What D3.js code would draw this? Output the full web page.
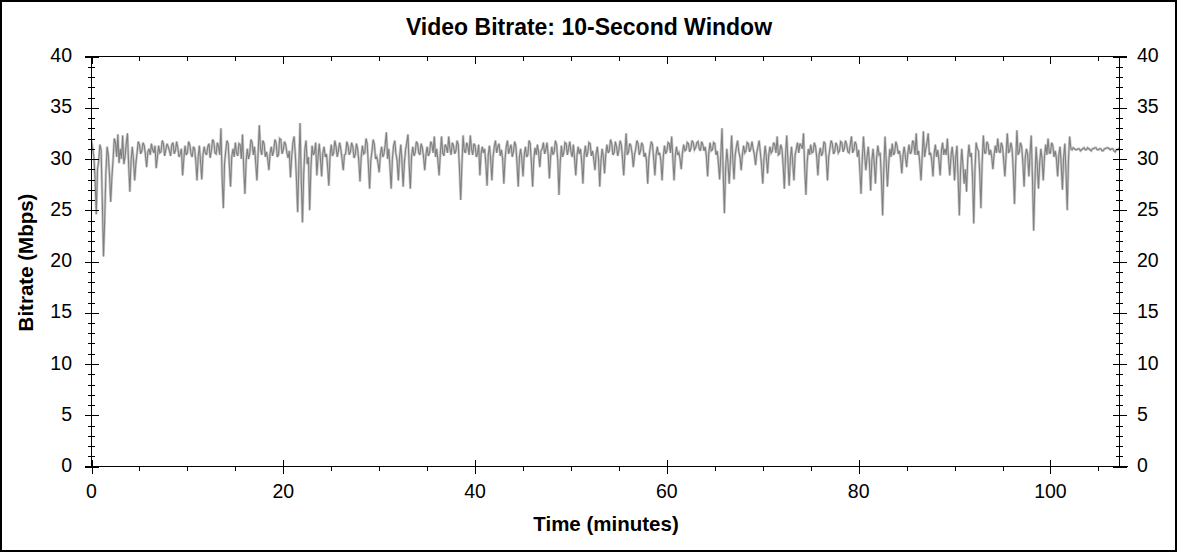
<!DOCTYPE html>
<html>
<head>
<meta charset="utf-8">
<script src="https://cdn.jsdelivr.net/npm/d3@7"></script>
<style>
  html, body { margin: 0; padding: 0; background: #fff; }
  svg { display: block; }
  text { font-family: "Liberation Sans", Arial, sans-serif; fill: #000; }
</style>
</head>
<body>
<svg id="chart" width="1178" height="552"></svg>
<script>
// ---------------- DATA ----------------
const chartTitle = "Video Bitrate: 10-Second Window";
const xAxisTitle = "Time (minutes)";
const yAxisTitle = "Bitrate (Mbps)";
const xMajorTicks = [0, 20, 40, 60, 80, 100];
const yMajorTicks = [0, 5, 10, 15, 20, 25, 30, 35, 40];
const sampleStepMinutes = 0.125;
// bitrate (Mbps), one sample every 0.125 minutes, 8 per line = one minute
const bitrate = [
  31.8, 31.0, 30.2, 28.0, 24.6, 29.0, 29.8, 31.4,
  30.9, 26.0, 20.5, 24.0, 28.6, 31.2, 30.4, 28.5,
  25.8, 28.2, 29.9, 32.0, 31.6, 30.2, 32.4, 29.6,
  31.0, 30.0, 32.3, 29.5, 30.2, 31.5, 32.5, 29.4,
  26.8, 29.8, 31.2, 30.0, 27.9, 29.5, 30.6, 31.7,
  31.4, 30.5, 30.8, 31.6, 31.3, 30.4, 29.2, 30.7,
  31.0, 30.4, 31.5, 30.9, 30.6, 31.3, 29.1, 30.2,
  31.3, 30.6, 30.7, 31.8, 31.5, 30.3, 30.9, 31.5,
  31.2, 30.8, 30.3, 31.4, 31.6, 30.5, 30.8, 31.7,
  31.1, 30.2, 30.5, 31.0, 28.4, 30.0, 31.3, 30.4,
  30.6, 31.7, 31.4, 30.5, 30.2, 31.2, 31.0, 29.8,
  27.9, 30.2, 31.3, 29.7, 28.0, 30.4, 31.2, 30.6,
  30.4, 31.2, 31.5, 30.1, 30.8, 31.9, 31.7, 30.6,
  30.5, 31.6, 31.2, 30.4, 33.0, 28.0, 25.2, 29.6,
  30.8, 31.8, 31.5, 29.4, 27.3, 30.2, 31.0, 30.2,
  31.6, 30.6, 30.3, 31.5, 31.4, 30.0, 32.4, 29.0,
  26.6, 29.8, 31.0, 30.0, 30.5, 31.9, 31.6, 30.4,
  31.2, 29.6, 27.9, 30.6, 33.3, 31.0, 30.4, 31.8,
  31.5, 30.2, 30.7, 30.0, 28.9, 30.6, 31.2, 30.3,
  30.8, 31.9, 31.6, 30.2, 30.4, 32.0, 31.9, 30.5,
  30.9, 31.7, 31.4, 30.6, 30.1, 30.8, 28.2, 30.2,
  31.6, 32.2, 30.5, 28.0, 24.8, 29.5, 33.5, 28.0,
  23.8, 28.4, 31.0, 31.8, 29.5, 30.2, 25.0, 29.0,
  31.3, 30.4, 30.6, 31.6, 28.4, 30.2, 31.5, 30.0,
  28.3, 30.6, 31.2, 30.2, 30.5, 29.2, 27.4, 30.3,
  31.4, 30.3, 30.6, 31.8, 31.2, 30.2, 30.8, 31.6,
  31.0, 30.0, 28.9, 30.4, 30.5, 31.7, 31.3, 30.4,
  30.7, 31.6, 31.2, 30.1, 30.4, 31.5, 31.0, 29.8,
  27.8, 30.2, 31.3, 30.5, 30.6, 32.0, 31.5, 29.4,
  27.1, 29.8, 30.8, 31.9, 31.4, 30.0, 30.2, 29.6,
  28.7, 30.4, 31.2, 30.2, 30.5, 31.4, 32.6, 30.0,
  31.0, 29.2, 27.1, 30.0, 31.3, 31.8, 30.5, 29.8,
  27.9, 30.2, 31.4, 29.8, 27.3, 29.6, 30.9, 31.6,
  32.4, 29.4, 27.1, 30.3, 31.2, 30.3, 30.6, 31.7,
  31.5, 30.6, 30.4, 31.5, 31.1, 30.2, 28.9, 30.4,
  31.2, 30.3, 30.6, 31.7, 31.4, 30.6, 32.2, 30.2,
  31.0, 29.8, 28.4, 30.5, 32.2, 30.6, 30.3, 31.4,
  31.2, 30.6, 32.2, 31.0, 30.4, 31.6, 31.3, 30.5,
  30.8, 31.8, 31.4, 29.0, 26.0, 29.4, 32.3, 30.8,
  30.6, 31.6, 31.2, 30.4, 32.3, 31.0, 30.4, 31.5,
  31.3, 30.2, 30.5, 31.4, 28.4, 30.5, 31.2, 30.6,
  31.0, 29.5, 27.4, 30.4, 31.3, 30.0, 27.9, 30.2,
  31.2, 31.8, 30.6, 31.2, 31.5, 30.3, 30.9, 30.0,
  27.6, 30.0, 31.2, 31.8, 30.5, 31.0, 31.4, 30.2,
  30.7, 31.7, 31.3, 29.5, 27.3, 30.2, 31.0, 30.0,
  28.3, 30.4, 31.2, 30.2, 30.4, 31.8, 31.5, 29.6,
  27.3, 30.0, 31.1, 30.4, 31.4, 30.6, 29.2, 30.8,
  31.0, 31.6, 30.5, 30.9, 31.6, 30.4, 28.1, 30.2,
  31.2, 30.4, 30.7, 31.8, 31.4, 29.8, 26.5, 29.6,
  31.3, 30.2, 30.6, 31.6, 31.5, 30.4, 31.0, 31.7,
  30.7, 30.2, 31.4, 30.0, 28.4, 30.3, 31.2, 30.5,
  31.0, 29.6, 27.6, 30.4, 31.3, 30.2, 30.6, 31.6,
  31.5, 30.3, 30.8, 30.0, 28.9, 30.5, 31.2, 30.0,
  27.3, 29.8, 31.0, 30.2, 28.6, 30.4, 31.4, 30.6,
  30.8, 31.9, 31.5, 30.4, 30.6, 31.7, 31.2, 30.3,
  30.9, 31.8, 31.4, 30.0, 28.4, 30.6, 32.5, 30.4,
  30.7, 31.5, 31.3, 30.5, 29.2, 30.4, 31.0, 31.8,
  31.5, 30.4, 30.8, 31.6, 31.3, 30.2, 30.6, 29.8,
  27.6, 30.1, 31.0, 31.7, 31.4, 30.0, 28.4, 30.4,
  31.2, 30.4, 30.6, 29.8, 27.9, 30.2, 31.3, 30.5,
  30.8, 31.6, 31.5, 30.6, 32.2, 30.0, 27.9, 30.3,
  31.2, 30.4, 30.6, 30.0, 29.0, 30.6, 31.4, 30.8,
  30.9, 31.6, 31.5, 30.7, 31.0, 31.8, 31.6, 30.9,
  31.1, 31.6, 31.7, 31.0, 30.8, 31.7, 31.4, 30.8,
  31.2, 30.2, 28.3, 30.6, 31.6, 30.8, 30.9, 31.6,
  31.5, 30.4, 30.8, 29.6, 28.0, 30.4, 33.0, 28.6,
  24.7, 29.0, 31.0, 29.6, 27.6, 29.8, 32.3, 30.0,
  28.0, 30.4, 31.2, 31.8, 30.7, 30.2, 28.9, 30.4,
  31.3, 30.6, 30.8, 31.6, 31.5, 30.7, 31.0, 31.7,
  31.0, 30.4, 29.4, 30.6, 31.2, 31.8, 30.6, 29.4,
  27.6, 30.0, 31.3, 30.2, 28.6, 30.4, 31.2, 30.6,
  30.8, 31.6, 31.4, 30.6, 32.2, 30.4, 30.5, 31.4,
  31.0, 29.4, 27.1, 30.4, 32.3, 29.8, 27.4, 30.0,
  31.2, 29.6, 27.9, 30.4, 31.0, 31.6, 30.6, 31.5,
  31.3, 31.0, 32.5, 29.0, 26.5, 29.6, 31.0, 30.4,
  31.4, 30.6, 30.7, 31.6, 31.2, 30.2, 28.4, 30.4,
  31.1, 30.3, 30.6, 31.7, 31.5, 30.0, 27.9, 30.2,
  31.0, 31.8, 31.5, 30.5, 30.7, 31.6, 31.3, 30.6,
  30.8, 31.7, 31.6, 30.7, 31.0, 31.8, 31.4, 30.7,
  30.6, 31.4, 32.2, 30.6, 30.9, 31.7, 31.4, 30.2,
  30.9, 28.8, 26.6, 30.0, 32.2, 30.4, 28.9, 30.2,
  31.2, 29.6, 26.9, 29.8, 31.0, 29.6, 27.6, 30.2,
  31.3, 30.4, 30.5, 28.0, 24.5, 29.2, 32.2, 29.8,
  27.3, 29.4, 31.0, 30.2, 31.5, 30.4, 30.6, 31.7,
  31.3, 30.5, 30.8, 30.0, 28.6, 30.4, 31.2, 30.2,
  29.2, 30.6, 31.4, 30.5, 30.7, 31.8, 31.6, 30.4,
  32.5, 30.4, 30.8, 29.6, 27.9, 30.2, 32.7, 30.2,
  31.0, 31.6, 32.5, 30.4, 30.6, 29.8, 28.3, 30.6,
  31.4, 30.2, 30.9, 29.8, 28.4, 30.8, 31.6, 30.4,
  31.0, 30.4, 32.0, 30.0, 28.4, 30.2, 31.2, 30.0,
  27.9, 30.2, 31.3, 28.0, 24.5, 29.0, 31.0, 29.4,
  27.6, 29.0, 26.8, 30.0, 31.4, 30.2, 30.6, 28.2,
  23.7, 28.8, 31.6, 31.0, 30.8, 28.6, 25.2, 29.6,
  32.3, 30.6, 30.6, 31.7, 31.4, 30.4, 30.9, 30.2,
  29.0, 30.4, 31.3, 30.6, 32.0, 30.8, 30.6, 31.6,
  31.2, 29.8, 28.3, 30.4, 32.5, 30.6, 30.8, 31.6,
  31.0, 28.8, 25.6, 29.6, 32.8, 30.4, 30.7, 31.6,
  31.2, 29.6, 27.3, 30.2, 31.0, 30.4, 28.3, 30.6,
  32.3, 28.0, 23.0, 27.6, 31.2, 29.4, 27.1, 29.6,
  31.0, 30.0, 27.9, 30.2, 31.4, 30.4, 32.0, 30.6,
  30.6, 31.6, 31.3, 30.2, 30.8, 30.0, 28.3, 30.4,
  31.2, 29.4, 27.0, 30.2, 31.5, 28.6, 25.0, 29.8,
  32.2, 31.0, 30.9, 31.1, 31.0, 30.9, 30.9, 31.0,
  31.0, 30.8, 30.9, 31.0, 31.1, 30.9, 30.9, 31.1,
  31.0, 30.9, 30.8, 31.0, 31.0, 31.1, 31.1, 30.9,
  30.9, 31.0, 31.0, 30.8, 30.8, 31.0, 31.0, 31.1,
  31.1, 31.0, 30.9, 31.0, 31.0, 30.8, 30.7, 30.9,
  30.9, 31.0, 30.8
];

// ---------------- LAYOUT ----------------
const W = 1178, H = 552;
const plot = { left: 91.5, right: 1119.5, top: 56.5, bottom: 466.5 };
const x = d3.scaleLinear().domain([0, 107.2]).range([plot.left, plot.right]);
const y = d3.scaleLinear().domain([0, 40]).range([plot.bottom, plot.top]);

const svg = d3.select("#chart");
svg.append("rect").attr("width", W).attr("height", H).attr("fill", "#fff");
svg.append("rect").attr("x", 1).attr("y", 1).attr("width", W - 3).attr("height", H - 2)
  .attr("fill", "none").attr("stroke", "#000").attr("stroke-width", 2);

svg.append("clipPath").attr("id", "clip").append("rect")
  .attr("x", plot.left).attr("y", plot.top).attr("width", plot.right - plot.left).attr("height", plot.bottom - plot.top);

const pts = bitrate.map((v, i) => [i * sampleStepMinutes, v]);
const line = d3.line().x(d => x(d[0])).y(d => y(d[1]));
const g = svg.append("g").attr("clip-path", "url(#clip)");
g.append("path").datum(pts).attr("d", line).attr("fill", "none")
  .attr("stroke", "#cccccc").attr("stroke-width", 2.6).attr("stroke-linejoin", "miter").attr("stroke-miterlimit", 3);
g.append("path").datum(pts).attr("d", line).attr("fill", "none")
  .attr("stroke", "#808080").attr("stroke-width", 1.1).attr("stroke-linejoin", "miter").attr("stroke-miterlimit", 3);

// axes
const ax = svg.append("g").attr("stroke", "#000").attr("stroke-width", 1).attr("shape-rendering", "crispEdges");
function ln(x1, y1, x2, y2) { ax.append("line").attr("x1", x1).attr("y1", y1).attr("x2", x2).attr("y2", y2); }
ln(plot.left, plot.top, plot.left, plot.bottom);
ln(plot.right, plot.top, plot.right, plot.bottom);
ln(plot.left - 7, plot.top, plot.right + 7, plot.top);
ln(plot.left - 7, plot.bottom, plot.right + 8, plot.bottom);

d3.range(0, 41, 1).forEach(v => {
  const yy = Math.round(y(v)) + 0.5;
  const s = v % 5 === 0 ? 7 : 3.5;
  ln(plot.left - s, yy, plot.left + s, yy);
  ln(plot.right - s, yy, plot.right + s, yy);
});
d3.range(0, 107.2, 5).forEach(v => {
  const xx = Math.round(x(v)) + 0.5;
  if (v % 20 === 0) {
    ln(xx, plot.bottom - 7, xx, plot.bottom + 7);
    ln(xx, plot.top, xx, plot.top + 7);
  } else {
    ln(xx, plot.bottom, xx, plot.bottom + 4);
    ln(xx, plot.top, xx, plot.top + 4);
  }
});

// tick labels
const fs = 19.5;
yMajorTicks.forEach(v => {
  svg.append("text").attr("x", 72).attr("y", y(v) + 5.6).attr("text-anchor", "end")
    .attr("font-size", fs).text(v);
  svg.append("text").attr("x", 1137).attr("y", y(v) + 5.6).attr("text-anchor", "start")
    .attr("font-size", fs).text(v);
});
xMajorTicks.forEach(v => {
  svg.append("text").attr("x", x(v)).attr("y", 497.5).attr("text-anchor", "middle")
    .attr("font-size", fs).text(v);
});

// titles
svg.append("text").attr("x", 589).attr("y", 35).attr("text-anchor", "middle")
  .attr("font-size", 23).attr("font-weight", "bold").text(chartTitle);
svg.append("text").attr("x", 606).attr("y", 530.5).attr("text-anchor", "middle")
  .attr("font-size", 20.5).attr("font-weight", "bold").text(xAxisTitle);
svg.append("text").attr("transform", `translate(33,${(plot.top + plot.bottom) / 2 + 1}) rotate(-90)`)
  .attr("text-anchor", "middle").attr("font-size", 20.5).attr("font-weight", "bold").text(yAxisTitle);
</script>
</body>
</html>
